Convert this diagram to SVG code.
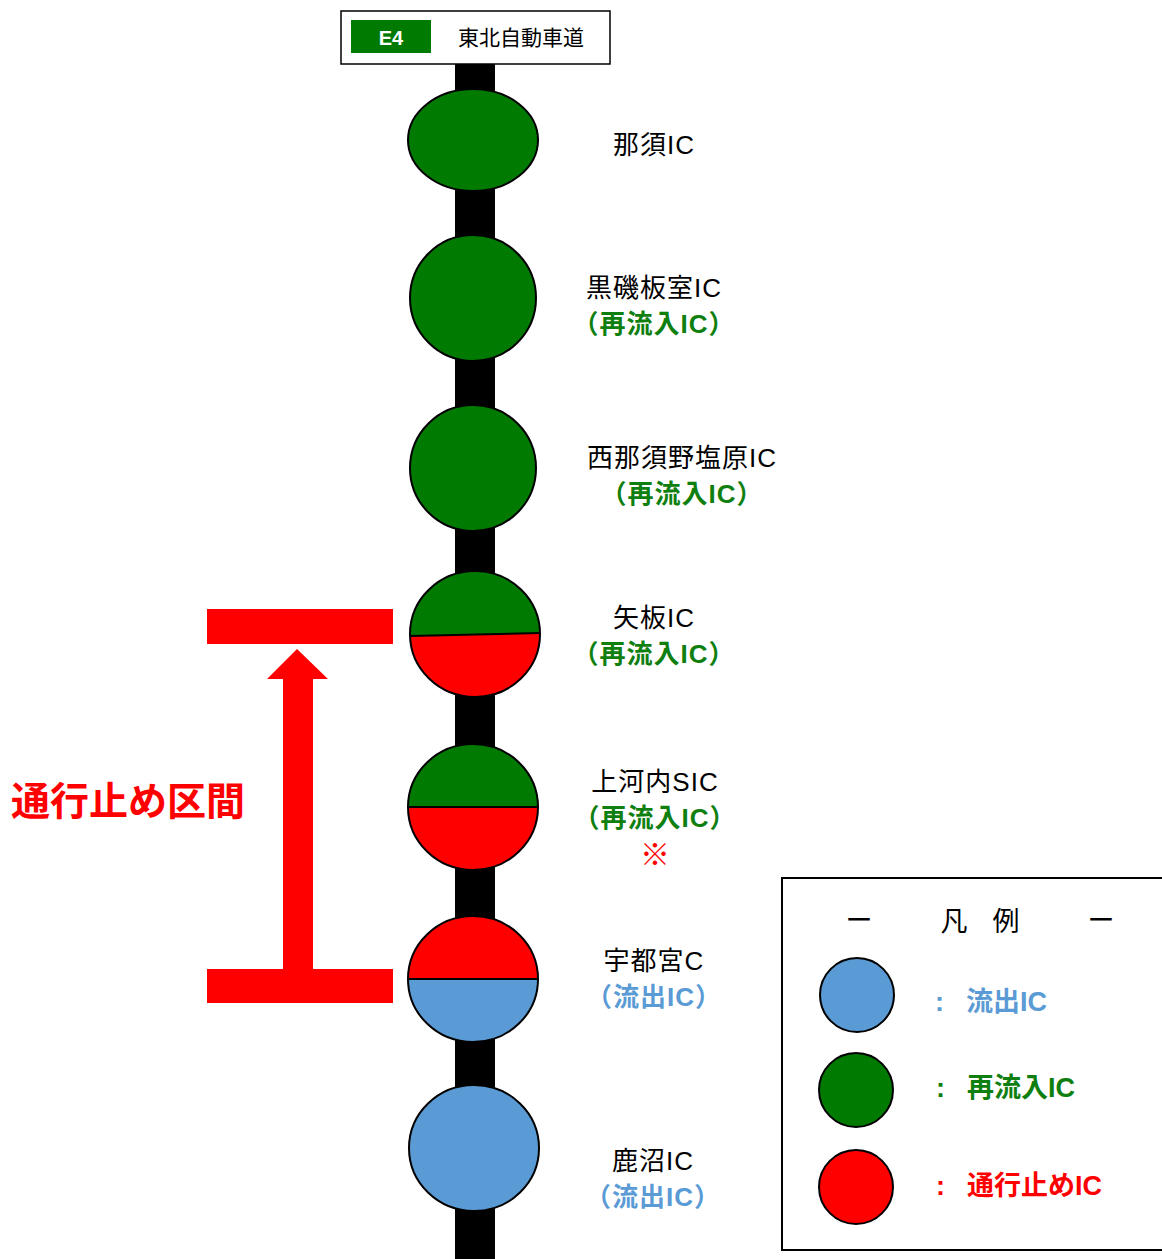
<svg xmlns="http://www.w3.org/2000/svg" width="1162" height="1259" viewBox="0 0 1162 1259">
<style>
.nm{font-family:"Liberation Sans","Noto Sans CJK JP",sans-serif;font-size:26px;fill:#000;text-anchor:middle;letter-spacing:1px}
.sub{font-family:"Liberation Sans","Noto Sans CJK JP",sans-serif;font-size:26px;font-weight:bold;text-anchor:middle;letter-spacing:1px}
.g{fill:#0F800F}
.b{fill:#5B9BD5}
.r{fill:#FF0000}
.ic{stroke:#000;stroke-width:2}
.leg{font-family:"Liberation Sans","Noto Sans CJK JP",sans-serif;font-size:27px;font-weight:bold}
.tt{font-family:"Noto Sans CJK JP",sans-serif;font-size:27px;text-anchor:middle}
</style>
<defs>
<clipPath id="c4"><ellipse cx="475" cy="634" rx="65" ry="63"/></clipPath>
<clipPath id="c5"><ellipse cx="473" cy="807" rx="65" ry="63"/></clipPath>
<clipPath id="c6"><ellipse cx="473" cy="979" rx="65" ry="63"/></clipPath>
</defs>
<rect width="1162" height="1259" fill="#fff"/>
<g id="connectors">
<rect x="455" y="64" width="40" height="1195" fill="#000"/>
</g>
<g id="header">
<rect x="341" y="11" width="269" height="53" fill="#fff" stroke="#000" stroke-width="1.5"/>
<rect x="351" y="20" width="80" height="33" fill="#007A00"/>
<text x="391" y="45" font-family="Liberation Sans,Arial,sans-serif" font-size="20" font-weight="bold" fill="#fff" text-anchor="middle">E4</text>
<text x="521" y="45" font-family="Noto Sans CJK JP,sans-serif" font-size="21" fill="#000" text-anchor="middle">東北自動車道</text>
</g>
<g id="nasu">
<ellipse cx="473" cy="140" rx="65" ry="51" fill="#007A00" class="ic"/>
<text x="654" y="154" class="nm">那須IC</text>
</g>
<g id="kuroiso">
<circle cx="473" cy="298" r="63" fill="#007A00" class="ic"/>
<text x="654" y="297" class="nm">黒磯板室IC</text>
<text x="654" y="333" class="sub g">（再流入IC）</text>
</g>
<g id="nishinasuno">
<circle cx="473" cy="468" r="63" fill="#007A00" class="ic"/>
<text x="682" y="467" class="nm">西那須野塩原IC</text>
<text x="682" y="503" class="sub g">（再流入IC）</text>
</g>
<g id="yaita">
<ellipse cx="475" cy="634" rx="65" ry="63" fill="#FF0000"/>
<polygon points="405,560 545,560 545,633 405,636" fill="#007A00" clip-path="url(#c4)"/>
<line x1="410" y1="636" x2="540" y2="633" stroke="#000" stroke-width="2"/>
<ellipse cx="475" cy="634" rx="65" ry="63" fill="none" class="ic"/>
<text x="654" y="627" class="nm">矢板IC</text>
<text x="654" y="663" class="sub g">（再流入IC）</text>
</g>
<g id="kamikawachi">
<ellipse cx="473" cy="807" rx="65" ry="63" fill="#FF0000"/>
<rect x="405" y="740" width="140" height="67" fill="#007A00" clip-path="url(#c5)"/>
<line x1="408" y1="807" x2="538" y2="807" stroke="#000" stroke-width="2"/>
<ellipse cx="473" cy="807" rx="65" ry="63" fill="none" class="ic"/>
<text x="655" y="791" class="nm">上河内SIC</text>
<text x="655" y="827" class="sub g">（再流入IC）</text>
<text x="655" y="865" class="sub r" style="font-size:30px;letter-spacing:0">※</text>
</g>
<g id="utsunomiya">
<ellipse cx="473" cy="979" rx="65" ry="63" fill="#5B9BD5"/>
<rect x="405" y="910" width="140" height="69" fill="#FF0000" clip-path="url(#c6)"/>
<line x1="408" y1="979" x2="538" y2="979" stroke="#000" stroke-width="2"/>
<ellipse cx="473" cy="979" rx="65" ry="63" fill="none" class="ic"/>
<text x="654" y="970" class="nm">宇都宮C</text>
<text x="654" y="1006" class="sub b">（流出IC）</text>
</g>
<g id="kanuma">
<ellipse cx="474" cy="1148" rx="65" ry="63" fill="#5B9BD5" class="ic"/>
<text x="653" y="1170" class="nm">鹿沼IC</text>
<text x="653" y="1206" class="sub b">（流出IC）</text>
</g>
<g id="closure">
<rect x="207" y="609" width="186" height="35" fill="#FF0000"/>
<rect x="207" y="969" width="186" height="34" fill="#FF0000"/>
<polygon points="297,649 328,679 313,679 313,969 283,969 283,679 267,679" fill="#FF0000"/>
<text x="128" y="815" font-family="Noto Sans CJK JP,sans-serif" font-size="39" font-weight="bold" fill="#FF0000" text-anchor="middle">通行止め区間</text>
</g>
<g id="legend">
<rect x="782" y="878" width="390" height="372" fill="#fff" stroke="#000" stroke-width="2"/>
<text x="859" y="930" class="tt">ー</text>
<text x="954" y="931" class="tt">凡</text>
<text x="1006" y="931" class="tt">例</text>
<text x="1101" y="930" class="tt">ー</text>
<circle cx="857" cy="995" r="37" fill="#5B9BD5" class="ic"/>
<circle cx="856" cy="1090" r="37" fill="#007A00" class="ic"/>
<circle cx="856" cy="1187" r="37" fill="#FF0000" class="ic"/>
<text x="935" y="1011" class="leg b">:</text>
<text x="966" y="1011" class="leg b">流出IC</text>
<text x="936" y="1097" class="leg g">:</text>
<text x="967" y="1097" class="leg g">再流入IC</text>
<text x="936" y="1195" class="leg r">:</text>
<text x="967" y="1195" class="leg r">通行止めIC</text>
</g>
</svg>
